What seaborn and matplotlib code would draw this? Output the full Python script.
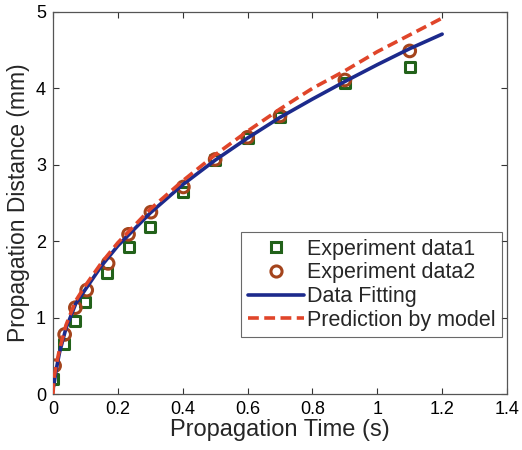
import matplotlib
matplotlib.use("Agg")
import matplotlib.pyplot as plt
import seaborn as sns
import pandas as pd
from matplotlib.lines import Line2D

# ---- data ----
t_exp1 = [0.0, 0.033, 0.067, 0.1, 0.167, 0.233, 0.3, 0.4, 0.5, 0.6, 0.7, 0.9, 1.1]
d_exp1 = [0.20, 0.65, 0.96, 1.21, 1.58, 1.92, 2.19, 2.64, 3.06, 3.35, 3.62, 4.07, 4.28]
t_exp2 = [0.005, 0.036, 0.069, 0.104, 0.17, 0.233, 0.302, 0.402, 0.5, 0.6, 0.7, 0.9, 1.1]
d_exp2 = [0.37, 0.78, 1.13, 1.36, 1.71, 2.09, 2.38, 2.71, 3.07, 3.36, 3.64, 4.11, 4.49]

t_fit = [0.002, 0.01, 0.02, 0.04, 0.07, 0.1, 0.15, 0.2, 0.3, 0.4, 0.5, 0.6,
         0.7, 0.8, 0.9, 1.0, 1.1, 1.2]
d_fit = [0.10, 0.32, 0.54, 0.86, 1.18, 1.37, 1.68, 1.94, 2.37, 2.74, 3.06, 3.35,
         3.62, 3.86, 4.09, 4.31, 4.52, 4.71]

t_pred = [0.0, 0.003, 0.01, 0.02, 0.04, 0.07, 0.1, 0.15, 0.2, 0.3, 0.4, 0.5,
          0.6, 0.7, 0.8, 0.9, 1.0, 1.1, 1.2]
d_pred = [0.0, 0.20, 0.38, 0.58, 0.90, 1.22, 1.42, 1.72, 1.98, 2.42, 2.79, 3.13,
          3.44, 3.73, 4.00, 4.23, 4.48, 4.70, 4.92]

x_ticks = [0, 0.2, 0.4, 0.6, 0.8, 1, 1.2, 1.4]
x_tick_labels = ["0", "0.2", "0.4", "0.6", "0.8", "1", "1.2", "1.4"]
y_ticks = [0, 1, 2, 3, 4, 5]
labels = ["Experiment data1", "Experiment data2", "Data Fitting", "Prediction by model"]

green = "#22621a"
brown = "#a4441c"
blue = "#1c2a8c"
red = "#e0452a"

sns.set_style("white")
plt.rcParams["font.family"] = ["Liberation Sans", "DejaVu Sans"]

fig = plt.figure(figsize=(5.22, 4.5), dpi=100)
ax = fig.add_axes([0.1015, 0.1244, 0.8698, 0.849])

df1 = pd.DataFrame({"t": t_exp1, "d": d_exp1})
df2 = pd.DataFrame({"t": t_exp2, "d": d_exp2})
dff = pd.DataFrame({"t": t_fit, "d": d_fit})
dfp = pd.DataFrame({"t": t_pred, "d": d_pred})

dash = (0, (3.0, 1.5))
sns.lineplot(data=dff, x="t", y="d", ax=ax, color=blue, linewidth=2.6, zorder=3)
sns.lineplot(data=dfp, x="t", y="d", ax=ax, color=red, linewidth=2.6,
             linestyle=dash, zorder=4)
sns.scatterplot(data=df1, x="t", y="d", ax=ax, marker="s", s=55,
                facecolor="white", edgecolor=green, linewidth=2.2, zorder=2)
sns.scatterplot(data=df2, x="t", y="d", ax=ax, marker="o", s=70,
                facecolor="none", edgecolor=brown, linewidth=2.2, zorder=2.5)

ax.set_xlim(0, 1.4)
ax.set_ylim(0, 5)
ax.set_xticks(x_ticks)
ax.set_xticklabels(x_tick_labels)
ax.set_yticks(y_ticks)
ax.tick_params(axis="both", which="both", direction="in", length=4, width=0.8,
               colors="#333333", labelcolor="black", labelsize=13,
               top=True, right=True, bottom=True, left=True, pad=5)
for sp in ax.spines.values():
    sp.set_visible(True)
    sp.set_color("#555555")
    sp.set_linewidth(0.9)

ax.set_xlabel("Propagation Time (s)", fontsize=17, labelpad=1)
ax.set_ylabel("Propagation Distance (mm)", fontsize=16.5, labelpad=4)

handles = [
    Line2D([], [], linestyle="none", marker="s", markersize=7, markerfacecolor="white",
           markeredgecolor=green, markeredgewidth=2.2),
    Line2D([], [], linestyle="none", marker="o", markersize=8, markerfacecolor="none",
           markeredgecolor=brown, markeredgewidth=2.2),
    Line2D([], [], color=blue, linewidth=2.6),
    Line2D([], [], color=red, linewidth=2.6, linestyle=dash),
]
leg = ax.legend(handles, labels, loc="lower right", bbox_to_anchor=(0.989, 0.149),
                borderaxespad=0, fancybox=False, frameon=True, fontsize=15.5,
                handlelength=2.6, handletextpad=0.15, borderpad=0.3, labelspacing=0.12)
leg.get_frame().set_edgecolor("#444444")
leg.get_frame().set_linewidth(0.8)

fig.savefig("out.png", dpi=100)
